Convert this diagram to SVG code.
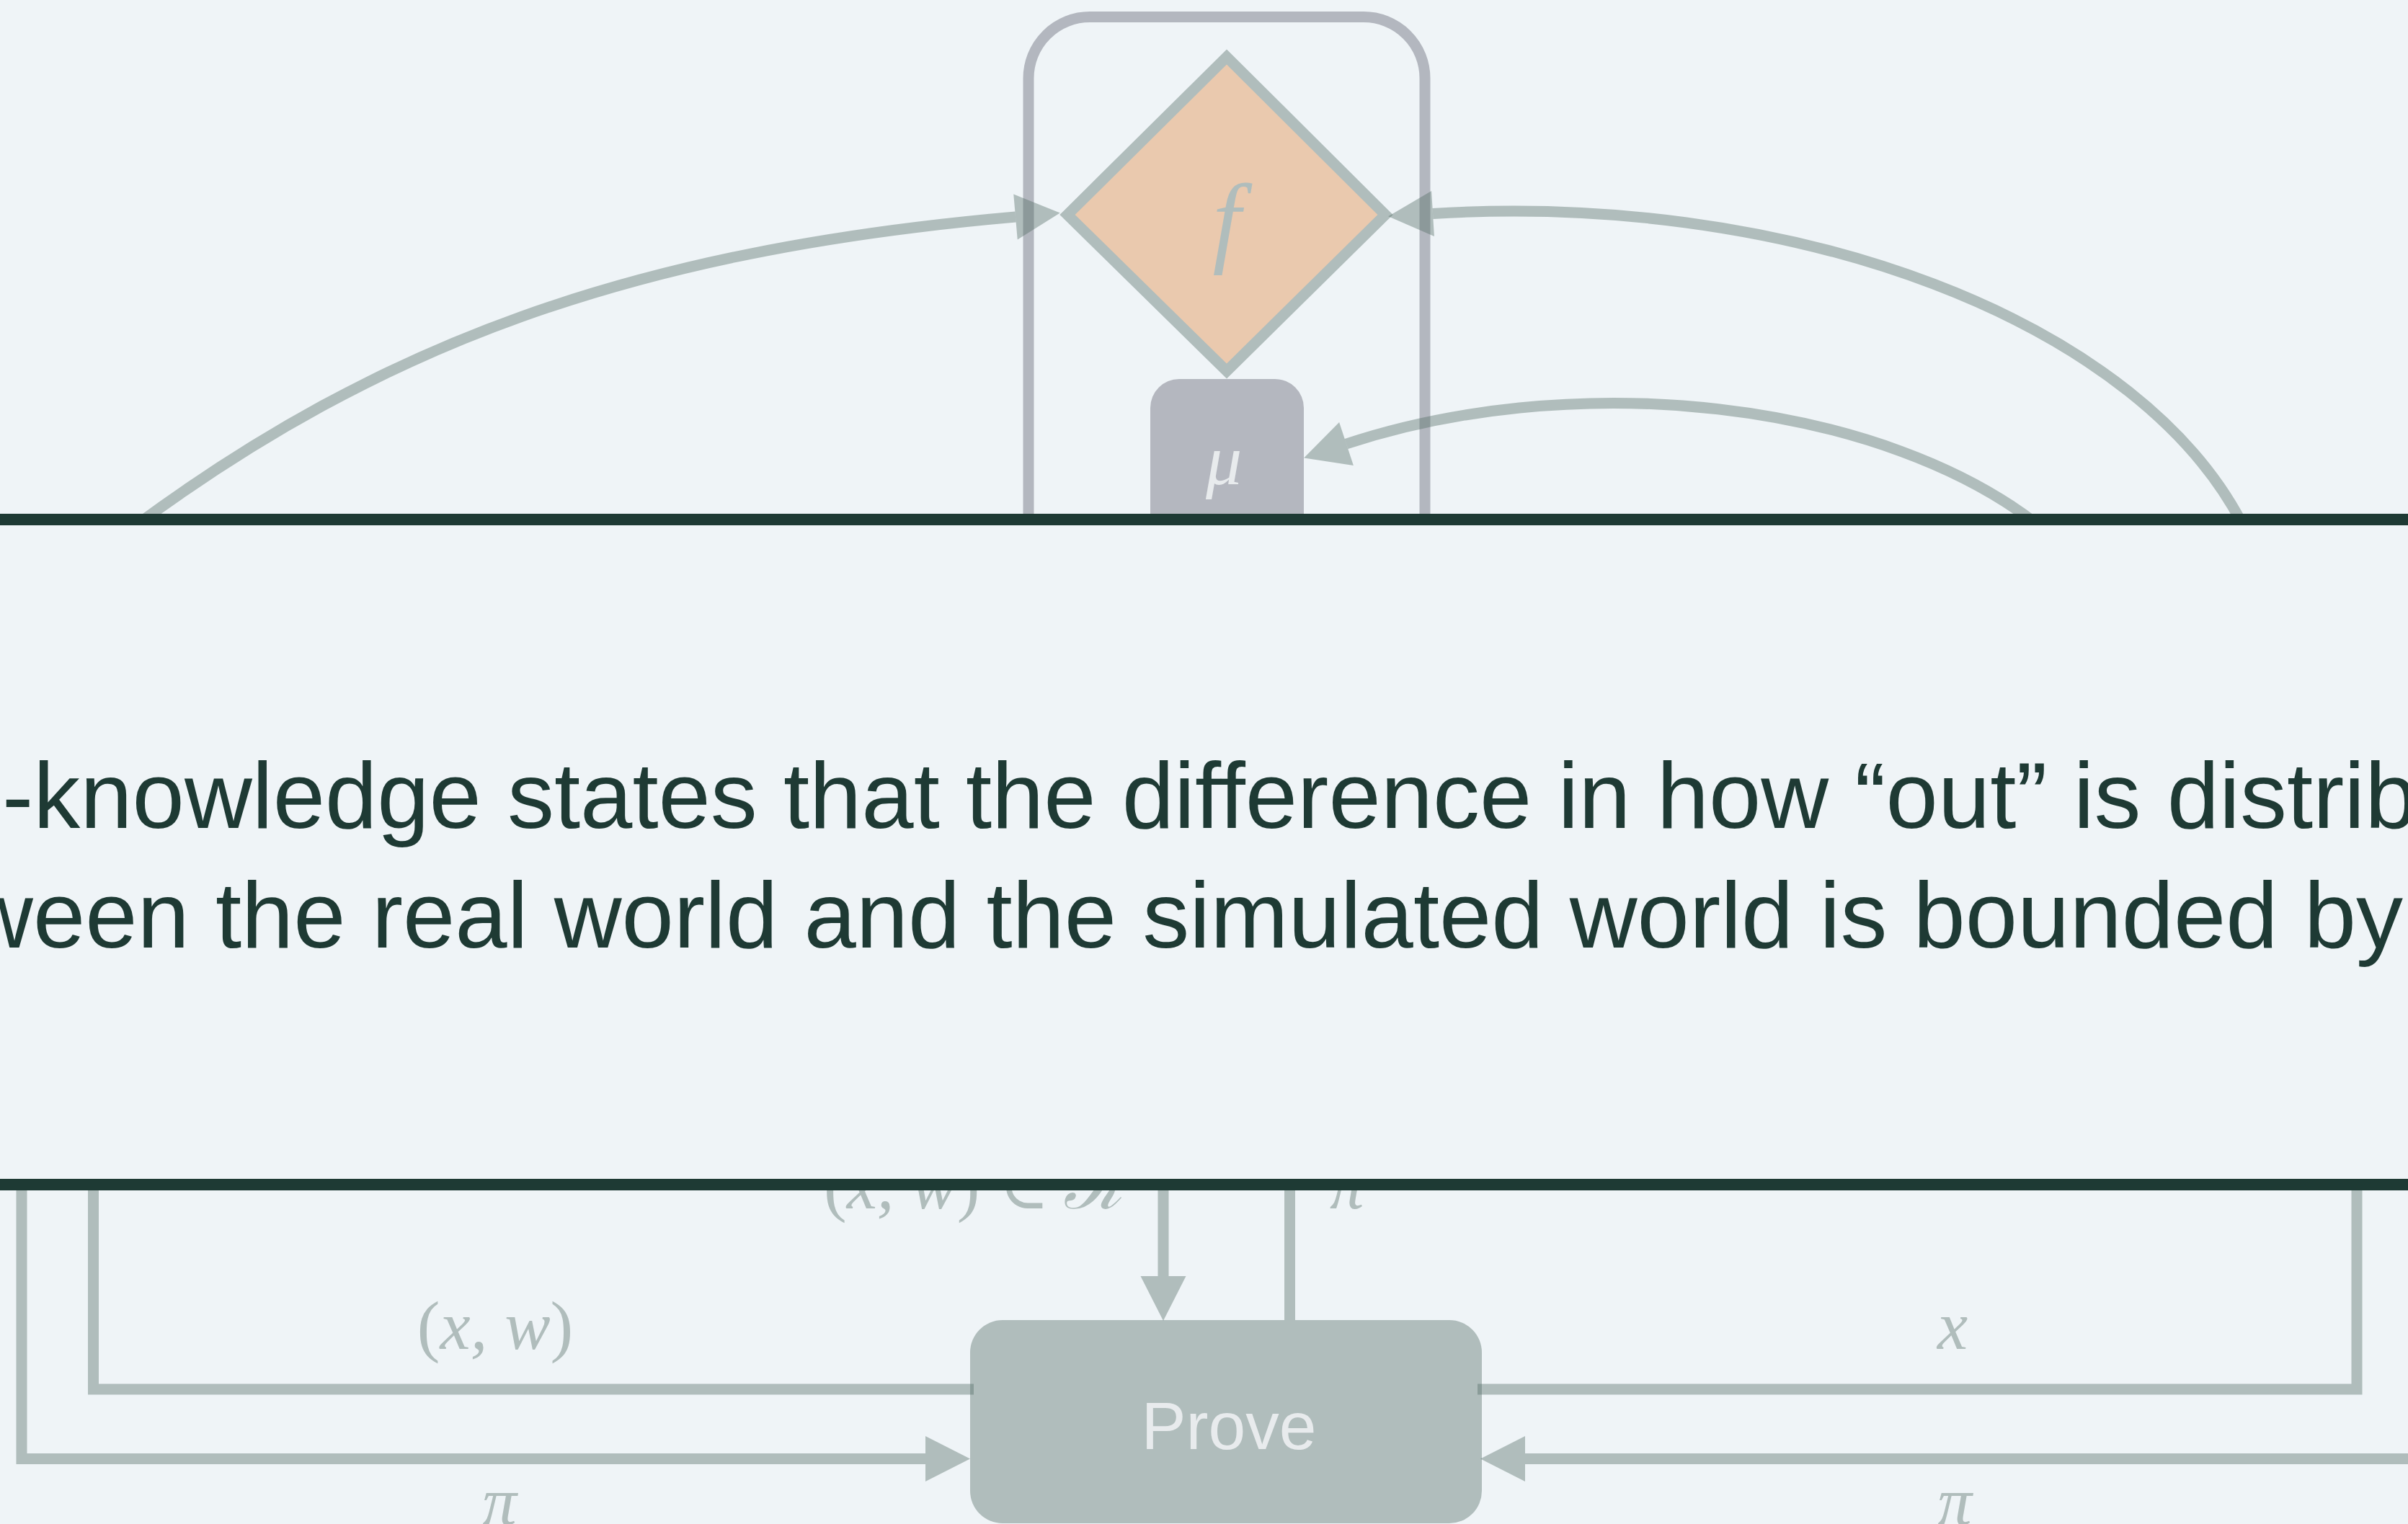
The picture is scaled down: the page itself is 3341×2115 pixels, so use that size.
<svg xmlns="http://www.w3.org/2000/svg" width="3341" height="2115" viewBox="0 0 3341 2115">
<defs>
<style>
.bg{fill:#eff4f7}
.conn{fill:none;stroke:#526b64;stroke-opacity:.4;stroke-width:15;stroke-linejoin:miter;stroke-linecap:butt}
.lbl{font-family:"Liberation Serif","DejaVu Serif",serif;font-style:italic;fill:#b0bdbc}
.up{font-style:normal}
.ntxt{fill:#e8ebed}
.band{stroke:#1e3a34;stroke-width:16}
.btxt{font-family:"Liberation Sans",Arial,sans-serif;font-size:130px;fill:#1e3a34}
</style>
<marker id="arrow" markerUnits="userSpaceOnUse" markerWidth="63" markerHeight="63" refX="0" refY="31.5" orient="auto" overflow="visible">
<path d="M0 0 L62 31.5 L0 63 Z" fill="#526b64" fill-opacity="0.4"/>
</marker>
</defs>
<rect class="bg" x="0" y="0" width="3341" height="2115"/>

<g id="frame">
<rect x="1427" y="23.6" width="550" height="950" rx="85" ry="85" fill="none" stroke="#b3b7bf" stroke-width="15"/>
</g>

<g id="node-f">
<polygon points="1481,298 1702,79 1922,298 1702,515" fill="#eac9ae" stroke="#b0bdbc" stroke-width="15" stroke-linejoin="miter"/>
<text class="lbl" x="1702" y="352" font-size="140" text-anchor="middle">f</text>
</g>

<g id="node-mu">
<rect x="1596" y="526" width="213" height="260" rx="40" ry="40" fill="#b4b7bf"/>
<text class="lbl ntxt" x="1698" y="672" font-size="100" text-anchor="middle">μ</text>
</g>

<g id="node-prove">
<rect x="1346" y="1832" width="710" height="282" rx="45" ry="45" fill="#b0bdbc"/>
<text x="1705" y="2011" font-family="Liberation Sans, Arial, sans-serif" font-size="93" class="ntxt" text-anchor="middle">Prove</text>
</g>

<g id="connectors">
<path class="conn" d="M190 728 C526 481 870 348 1409 301" marker-end="url(#arrow)"/>
<path class="conn" d="M3110 725 A1055 607 0 0 0 1988 296.5" marker-end="url(#arrow)"/>
<path class="conn" d="M2823 725 A722 400 0 0 0 1868 616" marker-end="url(#arrow)"/>
<path class="conn" d="M1614 1630 L1614 1771" marker-end="url(#arrow)"/>
<path class="conn" d="M1789.5 1832 L1789.5 1630"/>
<path class="conn" d="M30 1630 L30 2024.5 L1284 2024.5" marker-end="url(#arrow)"/>
<path class="conn" d="M129.5 1630 L129.5 1928 L1351 1928"/>
<path class="conn" d="M2050 1928 L3270 1928 L3270 1630"/>
<path class="conn" d="M3370 2024.5 L2116 2024.5" marker-end="url(#arrow)"/>
<g id="labels">
<text class="lbl" y="1677" font-size="95"><tspan x="1143" class="up">(</tspan><tspan>x, w</tspan><tspan class="up">)</tspan><tspan x="1386" class="up">∈</tspan><tspan x="1475">ℛ</tspan></text>
<text class="lbl" x="1845" y="1677" font-size="95">π</text>
<text class="lbl" x="687" y="1872" font-size="95" text-anchor="middle"><tspan class="up">(</tspan>x, w<tspan class="up">)</tspan></text>
<text class="lbl" x="2709" y="1872" font-size="95" text-anchor="middle">x</text>
<text class="lbl" x="693" y="2116" font-size="95" text-anchor="middle">π</text>
<text class="lbl" x="2712" y="2116" font-size="95" text-anchor="middle">π</text>
</g>
</g>

<g id="banner">
<rect class="bg" x="0" y="721" width="3341" height="923"/>
<line class="band" x1="0" y1="721" x2="3341" y2="721"/>
<line class="band" x1="0" y1="1644" x2="3341" y2="1644"/>
<text class="btxt" x="3" y="1149">-knowledge states that the difference in how “out” is distrib</text>
<text class="btxt" x="-48" y="1315">ween the real world and the simulated world is bounded by</text>
</g>
</svg>
